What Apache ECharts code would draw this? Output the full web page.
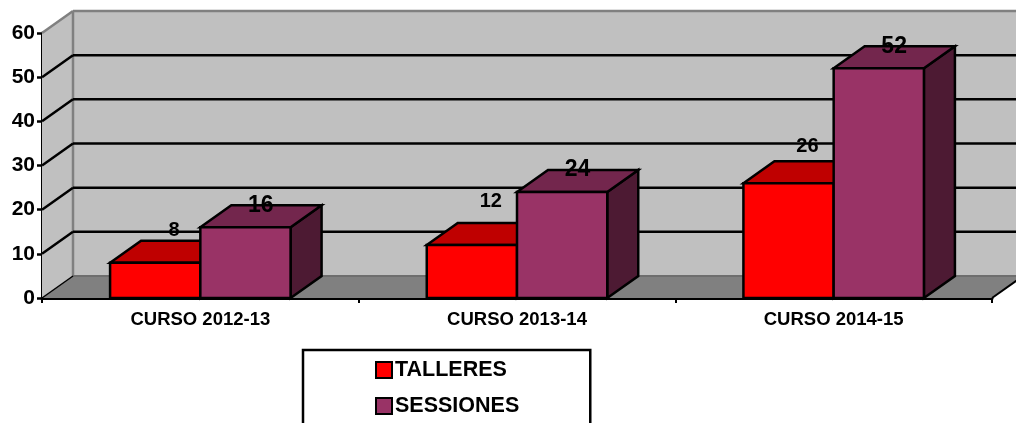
<!DOCTYPE html>
<html>
<head>
<meta charset="utf-8">
<style>html,body{margin:0;padding:0;background:#fff;overflow:hidden}#c{width:1016px;height:423px}</style>
<script src="https://cdn.jsdelivr.net/npm/echarts@6/dist/echarts.min.js"></script>
</head>
<body>
<div id="c"></div>
<script>
const categories = ['CURSO 2012-13', 'CURSO 2013-14', 'CURSO 2014-15'];
const talleres = [8, 12, 26];
const sessiones = [16, 24, 52];
const yTicks = [0, 10, 20, 30, 40, 50, 60];
// hand-placed data label nudges, as in the original chart (px above the bar's rear top edge)
const talleresLabelLift = [11, 23, 16];
const sessionesLabelLift = [1, 1, 1];

const FONT = '"Liberation Sans", Arial, sans-serif';
const DX = 31, DY = 22;
const BAR_RATIO = 0.285;

function poly(points, fill, stroke, lw, z2) {
  return { type: 'polygon', z2: z2 || 0, shape: { points: points },
    style: { fill: fill, stroke: stroke, lineWidth: lw, lineJoin: 'miter' } };
}
function line(x1, y1, x2, y2, stroke, lw) {
  return { type: 'line', shape: { x1, y1, x2, y2 }, style: { stroke: stroke, lineWidth: lw, fill: null } };
}
function wallItem(params, api) {
  const c = params.coordSys;
  const l = c.x, r = c.x + c.width, t = c.y, b = c.y + c.height;
  return { type: 'group', children: [
    poly([[l + DX, t - DY], [r + DX, t - DY], [r + DX, b - DY], [l + DX, b - DY]], '#c0c0c0', 'none', 0),
    poly([[l, t], [l + DX, t - DY], [l + DX, b - DY], [l, b]], '#c0c0c0', 'none', 0),
    poly([[l, b], [l + DX, b - DY], [r + DX, b - DY], [r, b]], '#808080', 'none', 0),
    line(l + DX, t - DY, l + DX, b - DY, '#808080', 2.5),
    line(l + DX, t - DY, r + DX, t - DY, '#808080', 2.5),
    line(l + DX, b - DY, r + DX, b - DY, '#6e6e6e', 2),
    line(r, b, r + DX, b - DY, '#000', 2)
  ] };
}
function gridItem(params, api) {
  const v = api.value(1);
  const c = params.coordSys;
  const y = api.coord([0, v])[1];
  const l = c.x, r = c.x + c.width;
  const top = v === yTicks[yTicks.length - 1], bottom = v === yTicks[0];
  const kids = [line(l, y, l + DX, y - DY, top ? '#808080' : '#000', bottom ? 1.5 : 2.5)];
  if (!top && !bottom) kids.push(line(l + DX, y - DY, r + DX, y - DY, '#000', 2.5));
  return { type: 'group', children: kids };
}
function barItem(side, front, topC, sideC, font, labelRatio, lifts) {
  return function (params, api) {
    const v = api.value(1);
    const p = api.coord([api.value(0), v]);
    const p0 = api.coord([api.value(0), 0]);
    const w = api.size([1, 0])[0] * BAR_RATIO;
    const x0 = side < 0 ? p[0] - w : p[0];
    const x1 = x0 + w, yt = p[1], yb = p0[1];
    return { type: 'group', children: [
      poly([[x1, yb], [x1 + DX, yb - DY], [x1 + DX, yt - DY], [x1, yt]], sideC, '#000', 2.5),
      poly([[x0, yt], [x0 + DX, yt - DY], [x1 + DX, yt - DY], [x1, yt]], topC, '#000', 2.5),
      poly([[x0, yt], [x1, yt], [x1, yb], [x0, yb]], front, '#000', 2.5),
      { type: 'text', z2: 10, style: { text: String(v), x: x0 + w * labelRatio, y: yt - DY - lifts[params.dataIndex] + 1,
        fill: '#000', font: 'bold ' + font + 'px ' + FONT, align: 'center', verticalAlign: 'middle' } }
    ] };
  };
}

const chart = echarts.init(document.getElementById('c'), null, { renderer: 'canvas' });
chart.setOption({
  animation: false,
  backgroundColor: '#fff',
  grid: { left: 42, right: 24, top: 33, bottom: 125, containLabel: false },
  xAxis: {
    type: 'category', data: categories, boundaryGap: true,
    axisLine: { show: true, onZero: false, lineStyle: { color: '#000', width: 3 } },
    axisTick: { show: true, alignWithLabel: false, length: 5, lineStyle: { color: '#000', width: 2 } },
    axisLabel: { color: '#000', fontFamily: FONT, fontWeight: 'bold', fontSize: 18.5, margin: 12 },
    splitLine: { show: false }
  },
  yAxis: {
    type: 'value', min: 0, max: 60, interval: 10,
    axisLine: { show: true, lineStyle: { color: '#000', width: 3 } },
    axisTick: { show: true, length: 5, lineStyle: { color: '#000', width: 2.5 } },
    axisLabel: { color: '#000', fontFamily: FONT, fontWeight: 'bold', fontSize: 21, margin: 7, padding: [2, 0, 0, 0] },
    splitLine: { show: false }
  },
  legend: {
    data: ['TALLERES', 'SESSIONES'], orient: 'vertical', left: 303, top: 350, height: 90,
    padding: [9, 71, 30, 72], itemWidth: 16, itemHeight: 16, itemGap: 14,
    backgroundColor: '#fff', borderColor: '#000', borderWidth: 2.5, borderRadius: 0,
    textStyle: { color: '#000', fontFamily: FONT, fontWeight: 'bold', fontSize: 21.5, padding: [0, 0, 0, -2] },
    icon: 'rect', selectedMode: false
  },
  series: [
    { type: 'custom', name: 'wall', clip: false, silent: true, z: 1, renderItem: wallItem, data: [[0, 0]], encode: { x: 0, y: 1 } },
    { type: 'custom', name: 'grid', clip: false, silent: true, z: 2, renderItem: gridItem, data: yTicks.map(t => [0, t]), encode: { x: 0, y: 1 } },
    { type: 'custom', name: 'TALLERES', clip: false, z: 3,
      itemStyle: { color: '#ff0000', borderColor: '#000', borderWidth: 2.5 },
      renderItem: barItem(-1, '#ff0000', '#bf0000', '#800000', 20, 0.71, talleresLabelLift),
      data: talleres.map((v, i) => [i, v]), encode: { x: 0, y: 1 } },
    { type: 'custom', name: 'SESSIONES', clip: false, z: 4,
      itemStyle: { color: '#993366', borderColor: '#000', borderWidth: 2.5 },
      renderItem: barItem(1, '#993366', '#73264d', '#4d1a33', 23, 0.67, sessionesLabelLift),
      data: sessiones.map((v, i) => [i, v]), encode: { x: 0, y: 1 } }
  ]
});
</script>
</body>
</html>
